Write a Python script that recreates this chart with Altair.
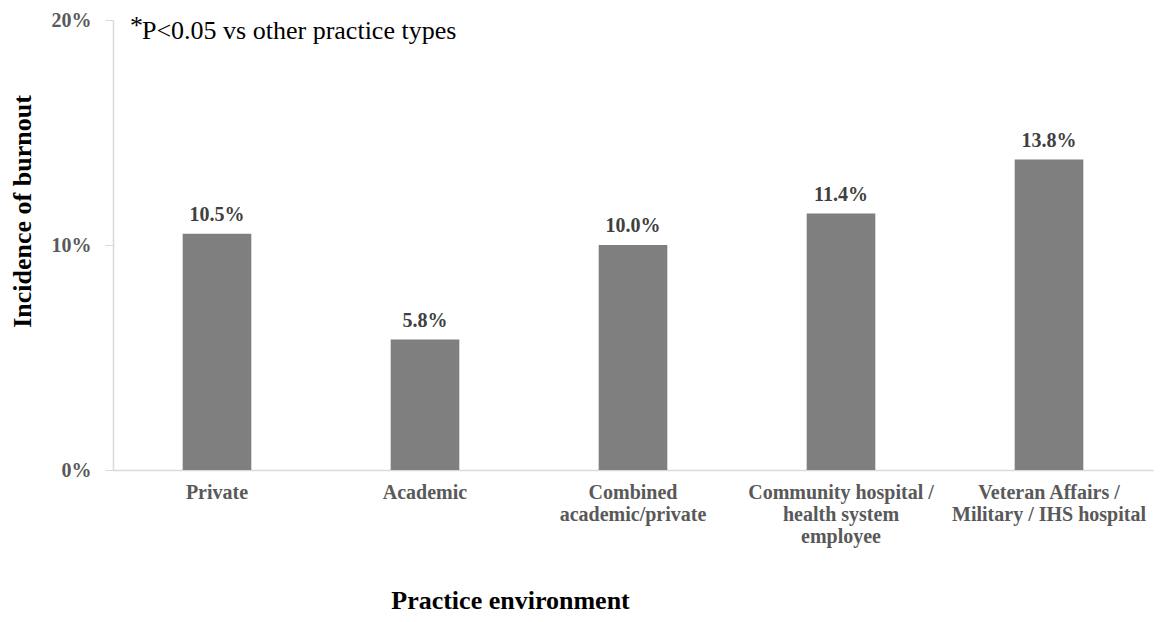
import altair as alt
import pandas as pd

categories = ["Private", "Academic", "Combined|academic/private",
              "Community hospital /|health system|employee",
              "Veteran Affairs /|Military / IHS hospital"]
values = [10.5, 5.8, 10.0, 11.4, 13.8]
labels = ["10.5%", "5.8%", "10.0%", "11.4%", "13.8%"]

df = pd.DataFrame({"cat": categories, "val": values, "lab": labels})

FONT = "Liberation Serif"

x = alt.X("cat:N", sort=categories,
          scale=alt.Scale(paddingInner=0.67, paddingOuter=0.335),
          axis=alt.Axis(title="Practice environment", labelAngle=0,
                        labelExpr="split(datum.label, '|')",
                        labelFont=FONT, labelFontSize=20, labelFontWeight="bold",
                        labelColor="#595959", labelLineHeight=22,
                        labelPadding=12, labelBaseline="top", labelLimit=300,
                        ticks=False, domainColor="#d9d9d9", domainWidth=1.5,
                        titleFont=FONT, titleFontSize=26, titleFontWeight="bold",
                        titleColor="#000000", titleX=397, titleY=138,
                        titleBaseline="alphabetic", titleAlign="center"))
y = alt.Y("val:Q", scale=alt.Scale(domain=[0, 20]),
          axis=alt.Axis(title="Incidence of burnout", values=[0, 10, 20],
                        labelExpr="datum.value + '%'", grid=False,
                        labelFont=FONT, labelFontSize=20, labelFontWeight="bold",
                        labelColor="#595959", labelPadding=14,
                        tickSize=8, tickColor="#d9d9d9", domainColor="#d9d9d9",
                        domainWidth=1.5,
                        titleFont=FONT, titleFontSize=26, titleFontWeight="bold",
                        titleColor="#000000", titleX=-91, titleY=191,
                        titleBaseline="middle", titleAlign="center", titleAngle=-90))

bars = alt.Chart(df).mark_bar(color="#7f7f7f").encode(x=x, y=y)
text = alt.Chart(df).mark_text(dy=-13, baseline="alphabetic", font=FONT,
                               fontSize=20, fontWeight="bold",
                               color="#404040").encode(
    x=alt.X("cat:N", sort=categories), y="val:Q", text="lab:N")

note_star = alt.Chart(pd.DataFrame({"t": ["*"]})).mark_text(
    align="left", baseline="alphabetic", font=FONT, fontSize=26, color="#000000"
).encode(x=alt.value(17), y=alt.value(14), text="t:N")
note = alt.Chart(pd.DataFrame({"t": ["P<0.05 vs other practice types"]})).mark_text(
    align="left", baseline="alphabetic", font=FONT, fontSize=26, color="#000000"
).encode(x=alt.value(29), y=alt.value(19), text="t:N")

chart = alt.layer(bars, text, note_star, note).properties(
    width=1040, height=450,
    autosize=alt.AutoSizeParams(type="none"),
    padding={"left": 105, "top": 12, "right": 3, "bottom": 144},
).configure(background="white", view=alt.ViewConfig(stroke=None))

chart.save("out.html", embed_options={"renderer": "svg", "actions": False})
